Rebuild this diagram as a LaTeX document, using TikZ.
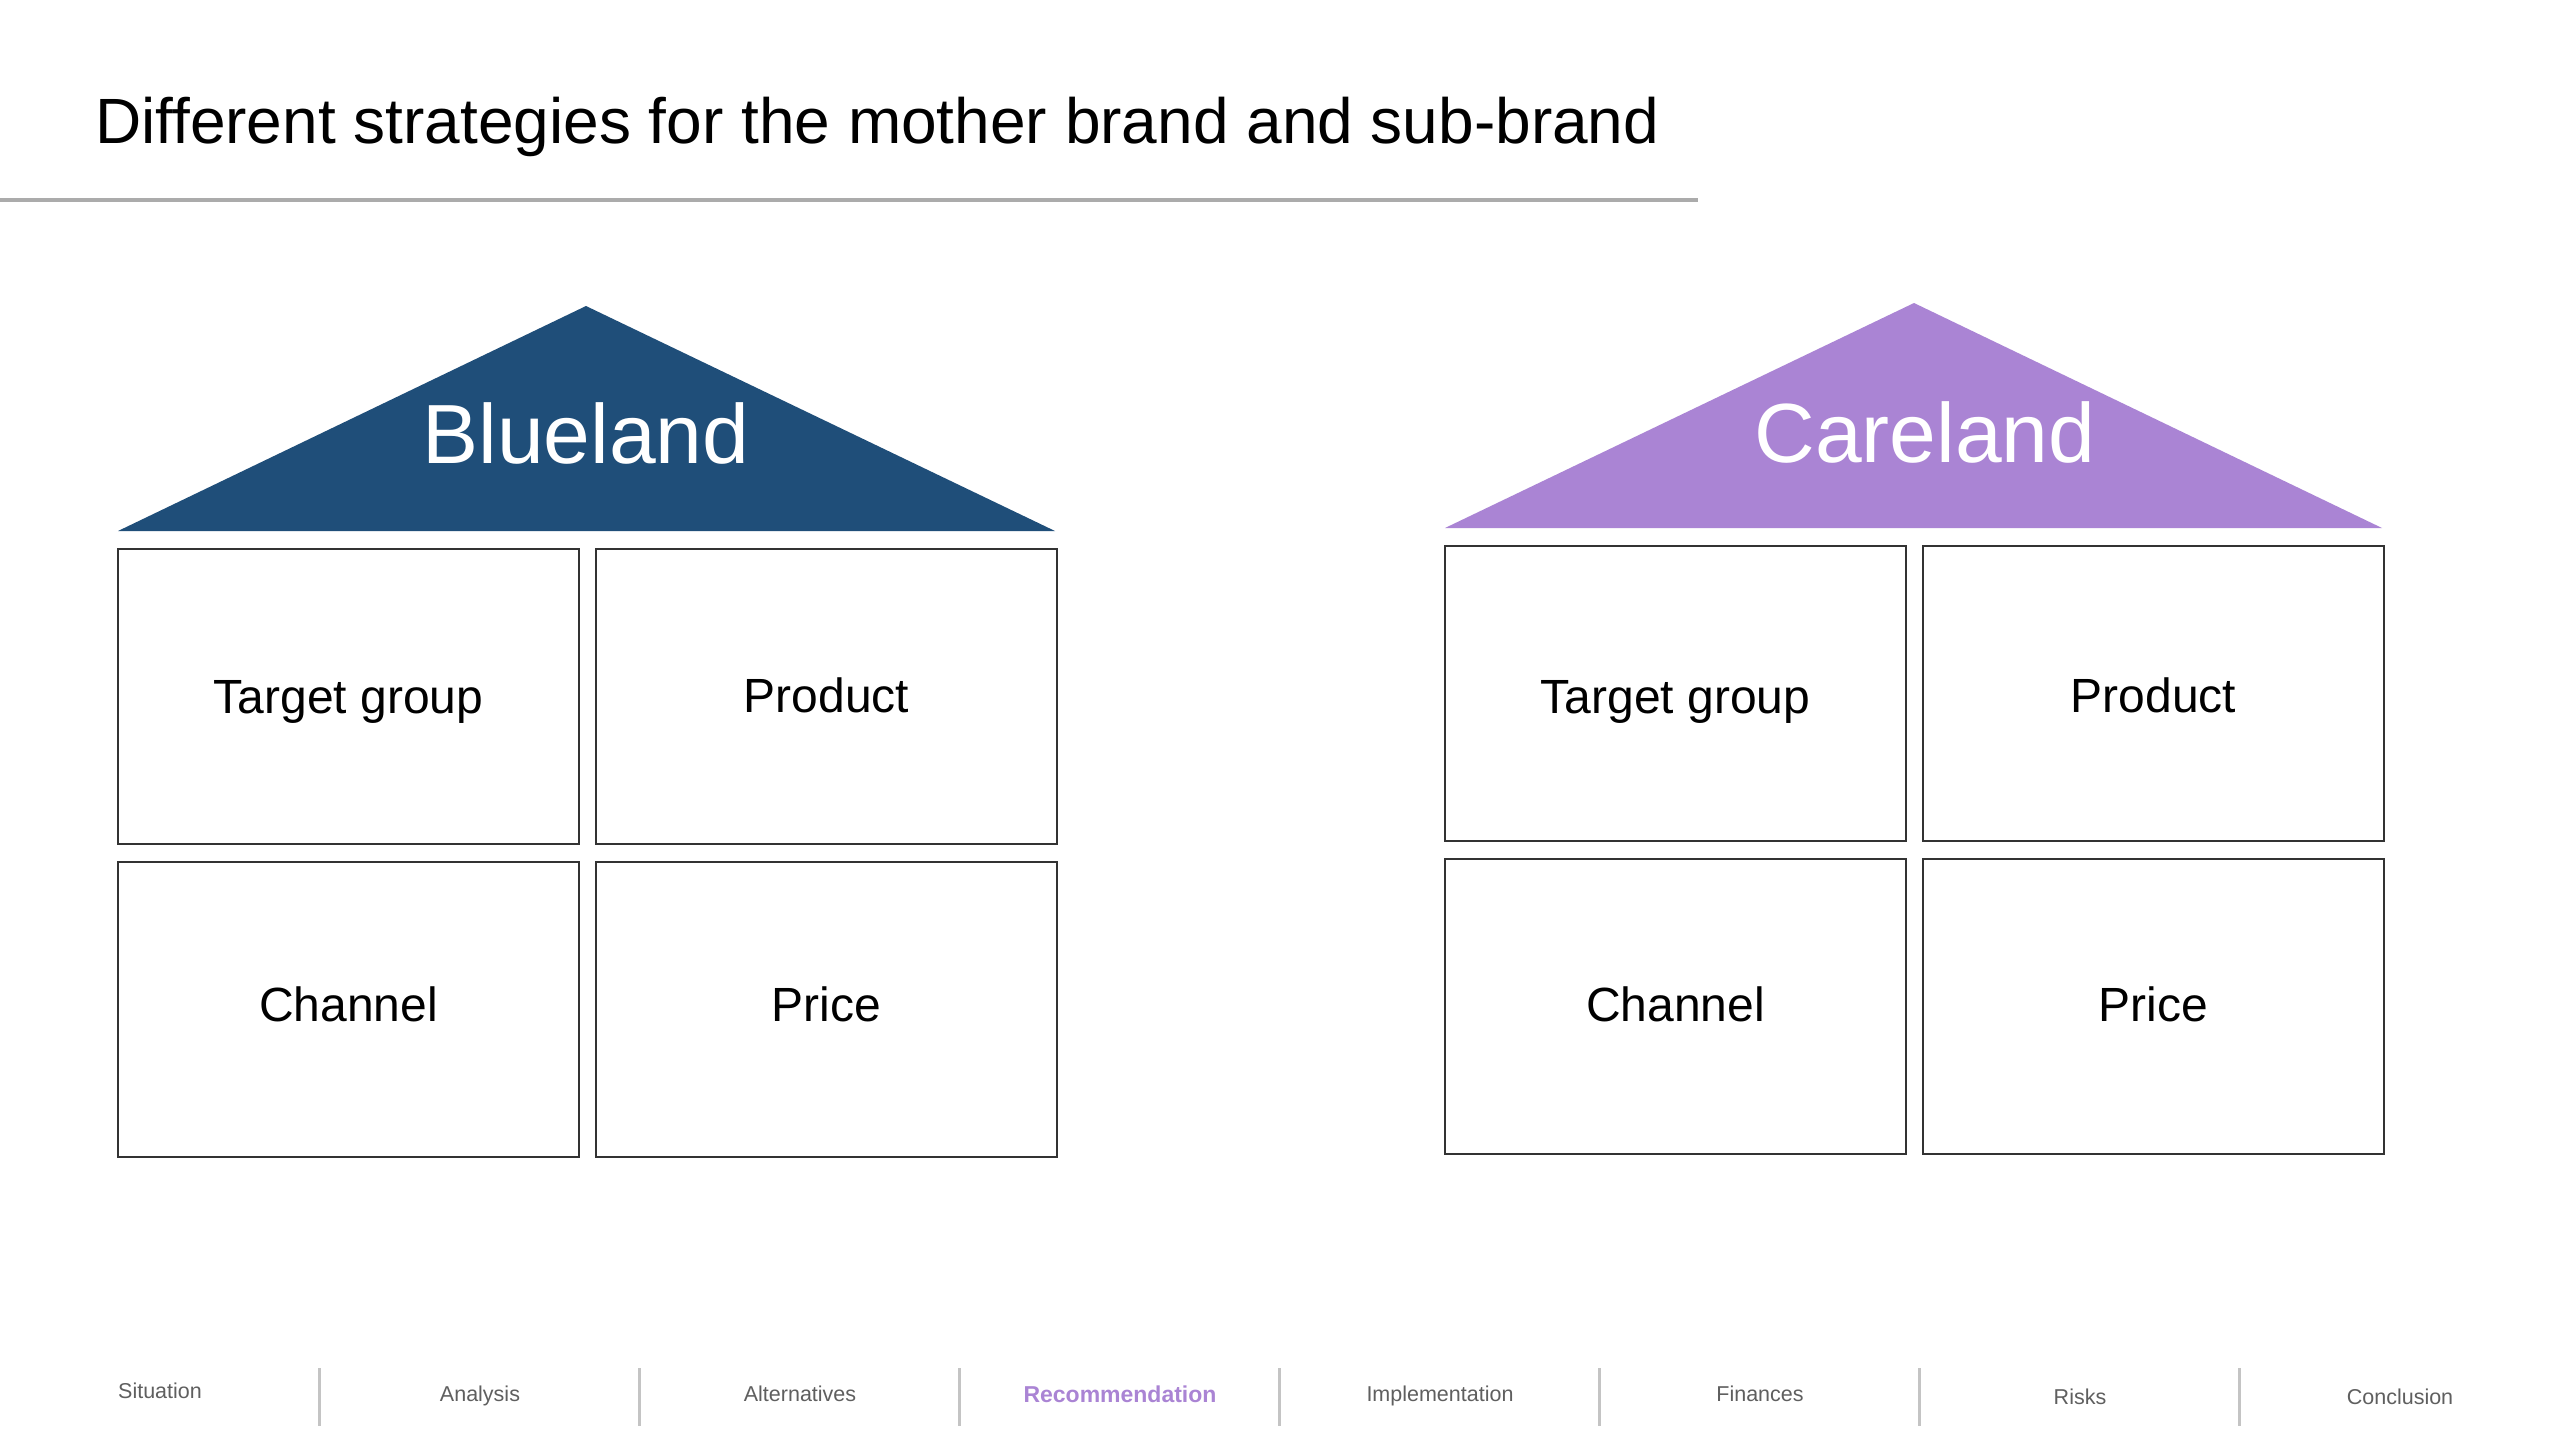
\documentclass[tikz,border=0pt]{standalone}
\usepackage{fontspec}
\setmainfont{Liberation Sans}
\definecolor{blueroof}{HTML}{1F4E79}
\definecolor{purpleroof}{HTML}{AA84D4}
\definecolor{navgray}{HTML}{5F5F5F}
\definecolor{sepgray}{HTML}{C4C4C4}
\definecolor{rulegray}{HTML}{ABABAB}
\definecolor{boxline}{HTML}{333333}
\begin{document}
\begin{tikzpicture}[x=1pt,y=-1pt,
  cell/.style={draw=boxline,line width=2.6pt,minimum width=461pt,minimum height=295pt,inner sep=0pt,outer sep=0pt,anchor=north west},
  celltext/.style={anchor=base,inner sep=0pt,font=\fontsize{48}{56}\selectfont},
  brandtext/.style={anchor=base,inner sep=0pt,text=white,font=\fontsize{84}{100}\selectfont},
  navtext/.style={anchor=base,inner sep=0pt,text=navgray,font=\fontsize{21.5}{26}\selectfont},
  navsel/.style={anchor=base,inner sep=0pt,text=purpleroof,font=\fontsize{23}{28}\selectfont\bfseries},
  sep/.style={draw=sepgray,line width=3pt}]
\useasboundingbox (0,0) rectangle (2560,1440);
\fill[white] (0,0) rectangle (2560,1440);
% title
\node[anchor=base west,inner sep=0pt,font=\fontsize{64}{74}\selectfont] (title) at (95,143) {Different strategies for the mother brand and sub-brand};
\coordinate (ruleL) at (0,200);
\coordinate (ruleR) at (1698,200);
\draw[rulegray,line width=4pt] (ruleL) -- (ruleR);
% Blueland roof
\coordinate (bA) at (586,306);
\coordinate (bL) at (118,531);
\coordinate (bR) at (1055,531);
\fill[blueroof] (bL) -- (bA) -- (bR) -- cycle;
\node[brandtext] (blueland) at (586,463) {Blueland};
% Careland roof
\coordinate (cA) at (1914,303);
\coordinate (cL) at (1445,528);
\coordinate (cR) at (2382,528);
\fill[purpleroof] (cL) -- (cA) -- (cR) -- cycle;
\node[brandtext] (careland) at (1925,462) {Careland};
% Blueland cells
\node[cell] (b1) at (118,549) {};
\node[cell] (b2) at (596,549) {};
\node[cell] (b3) at (118,862) {};
\node[cell] (b4) at (596,862) {};
\node[celltext] (b1t) at ([yshift=-17pt]b1.center) {Target group};
\node[celltext] (b2t) at ([yshift=-16pt]b2.center) {Product};
\node[celltext] (b3t) at ([yshift=-12pt]b3.center) {Channel};
\node[celltext] (b4t) at ([yshift=-12pt]b4.center) {Price};
% Careland cells
\node[cell] (c1) at (1445,546) {};
\node[cell] (c2) at (1923,546) {};
\node[cell] (c3) at (1445,859) {};
\node[cell] (c4) at (1923,859) {};
\node[celltext] (c1t) at ([yshift=-20pt]c1.center) {Target group};
\node[celltext] (c2t) at ([yshift=-19pt]c2.center) {Product};
\node[celltext] (c3t) at ([yshift=-15pt]c3.center) {Channel};
\node[celltext] (c4t) at ([yshift=-15pt]c4.center) {Price};
% navigation
\node[navtext] (n1) at (160,1398) {Situation};
\node[navtext] (n2) at (480,1401) {Analysis};
\node[navtext] (n3) at (800,1401) {Alternatives};
\node[navsel] (n4) at (1120,1402) {Recommendation};
\node[navtext] (n5) at (1440,1401) {Implementation};
\node[navtext] (n6) at (1760,1401) {Finances};
\node[navtext] (n7) at (2080,1404) {Risks};
\node[navtext] (n8) at (2400,1404) {Conclusion};
\foreach \k in {1,...,7}{
  \coordinate (s\k a) at (320*\k-1,1368);
  \coordinate (s\k b) at (320*\k-1,1426);
  \draw[sep] (s\k a) -- (s\k b);
}
\end{tikzpicture}
\end{document}
